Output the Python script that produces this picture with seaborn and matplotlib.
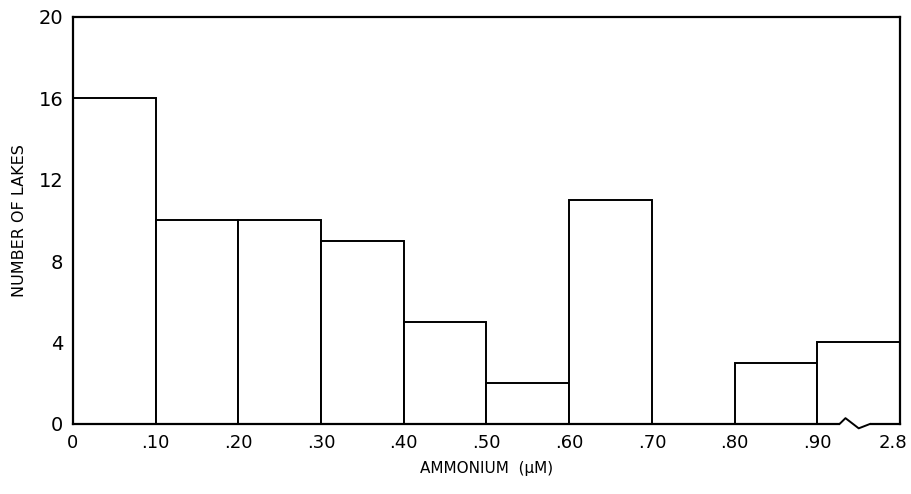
import numpy as np
import pandas as pd
import seaborn as sns
import matplotlib.pyplot as plt
from matplotlib.transforms import ScaledTranslation

# Ammonium concentration classes (µM) and the number of lakes in each
bin_labels = ["0", ".10", ".20", ".30", ".40", ".50", ".60", ".70", ".80", ".90", "2.8"]
lakes = [16, 10, 10, 9, 5, 2, 11, 0, 3, 4]
y_ticks = [0, 4, 8, 12, 16, 20]

sns.set_theme(style="white")
plt.rcParams["font.family"] = ["DejaVu Sans"]
plt.rcParams["text.color"] = "black"
plt.rcParams["axes.labelcolor"] = "black"
plt.rcParams["xtick.color"] = "black"
plt.rcParams["ytick.color"] = "black"

fig = plt.figure(figsize=(9.11, 4.94), dpi=100)
ax = fig.add_axes([0.080, 0.142, 0.908, 0.824])

# Equal-width classes on the axis; the last class spans .90 to 2.8 (broken scale)
df = pd.DataFrame({"cls": np.arange(len(lakes)) + 0.5, "lakes": lakes})
sns.barplot(data=df, x="cls", y="lakes", native_scale=True, width=1.0,
            color="white", edgecolor="black", linewidth=1.4, saturation=1,
            errorbar=None, ax=ax)

ax.set_xlim(0, len(lakes))
ax.set_ylim(0, 20)
ax.set_xticks(np.arange(len(bin_labels)))
ax.set_xticklabels(bin_labels, fontsize=13)
ax.set_yticks(y_ticks)
ax.set_yticklabels([str(v) for v in y_ticks], fontsize=14)
ax.tick_params(axis="both", direction="out", length=3, width=1.2, color="black",
               labelcolor="black", pad=4)

# keep the last class label inside the figure
last = ax.get_xticklabels()[-1]
last.set_transform(last.get_transform() + ScaledTranslation(-7 / 100, 0, fig.dpi_scale_trans))

for side in ["left", "right", "top", "bottom"]:
    ax.spines[side].set_visible(True)
    ax.spines[side].set_color("black")
    ax.spines[side].set_linewidth(1.6)

# Scale-break mark on the baseline between .90 and 2.8
ax.plot([9.27, 9.64], [0, 0], color="white", lw=3, clip_on=False, zorder=5,
        solid_capstyle="butt")
ax.plot([9.27, 9.34, 9.50, 9.64], [0, 0.28, -0.22, 0], color="black", lw=1.4,
        clip_on=False, zorder=6)

ax.set_xlabel("AMMONIUM  (\u03bcM)", fontsize=11, labelpad=7, color="black")
ax.set_ylabel("NUMBER OF LAKES", fontsize=11.5, labelpad=8, color="black")

fig.savefig("out.png", dpi=100, facecolor="white")
